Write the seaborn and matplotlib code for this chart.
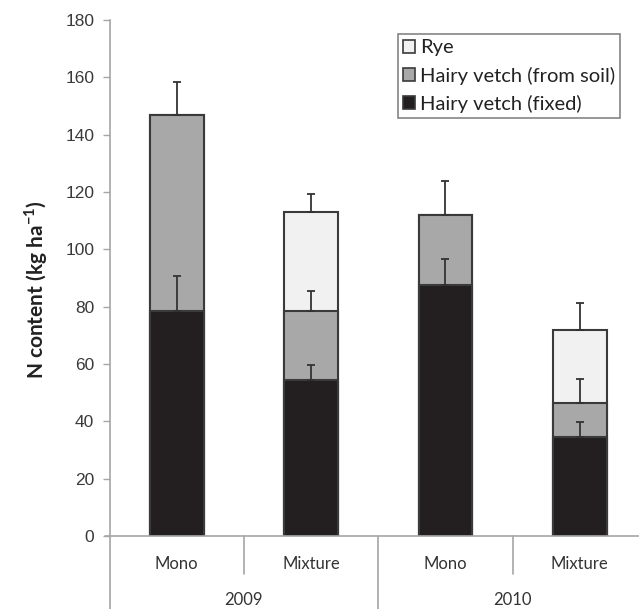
import matplotlib
matplotlib.use("Agg")
import matplotlib.pyplot as plt
import seaborn as sns
import numpy as np
import pandas as pd
from matplotlib.patches import Patch

sns.set_theme(style="white")
plt.rcParams['font.family'] = ['Lato', 'DejaVu Sans']
plt.rcParams['mathtext.fontset'] = 'custom'
plt.rcParams['mathtext.rm'] = 'Lato'
plt.rcParams['mathtext.bf'] = 'Lato:bold'

# ---- data ----
years = ["2009", "2009", "2010", "2010"]
treatments = ["Mono", "Mixture", "Mono", "Mixture"]
fixed = [78.5, 54.5, 87.5, 34.5]
soil = [68.5, 24.0, 24.5, 12.0]
rye = [0.0, 34.5, 0.0, 25.5]
err_fixed = [12.3, 5.3, 9.0, 5.2]
err_soil = [11.2, 7.1, 11.9, 8.4]
err_rye = [0.0, 6.3, 0.0, 9.2]
legend_labels = ["Rye", "Hairy vetch (from soil)", "Hairy vetch (fixed)"]
year_labels = ["2009", "2010"]

fixed_a = np.array(fixed)
soil_top = fixed_a + np.array(soil)
rye_top = soil_top + np.array(rye)

keys = [f"{y} {t}" for y, t in zip(years, treatments)]
df = pd.DataFrame({"key": keys, "fixed": fixed_a, "soil_top": soil_top, "rye_top": rye_top})

c_fixed = "#231f20"
c_soil = "#a8a8a8"
c_rye = "#f1f1f1"
edge = "#3a3a3a"
grey = "#a6a6a6"

fig = plt.figure(figsize=(6.39, 6.09), dpi=100)
ax = fig.add_axes([109.5 / 639, 73 / 609, 1 - 109.5 / 639, 516 / 609])

bar_kw = dict(width=0.4, edgecolor=edge, linewidth=1.5, ax=ax, order=keys)
sns.barplot(data=df, x="key", y="rye_top", color=c_rye, saturation=1, **bar_kw)
sns.barplot(data=df, x="key", y="soil_top", color=c_soil, saturation=1, **bar_kw)
sns.barplot(data=df, x="key", y="fixed", color=c_fixed, saturation=1, **bar_kw)

xs = np.arange(len(keys))
err_kw = dict(fmt="none", ecolor="#333333", elinewidth=1.3, capsize=3, capthick=1.3, zorder=5)
ax.errorbar(xs, fixed_a, yerr=[np.zeros(4), err_fixed], **err_kw)
ax.errorbar(xs, soil_top, yerr=[np.zeros(4), err_soil], **err_kw)
mix = np.array(rye) > 0
ax.errorbar(xs[mix], rye_top[mix], yerr=[np.zeros(mix.sum()), np.array(err_rye)[mix]], **err_kw)

ax.set_ylim(0, 180)
ax.set_xlim(-0.5, 3.44)
ax.set_yticks(np.arange(0, 181, 20))
ax.set_yticklabels([str(v) for v in range(0, 181, 20)], family="Liberation Sans", fontsize=12.5, color="#3a3a3a")
ax.tick_params(axis="y", which="both", left=True, length=5, width=1, color=grey, pad=6)
ax.set_xticks([])
ax.set_xlabel("")
ax.set_ylabel(r"N content (kg ha$^{\mathbf{-1}}$)", fontsize=15, fontweight="bold", color="#222222")
ax.yaxis.set_label_coords(-0.112, 0.477)

for s in ["top", "right"]:
    ax.spines[s].set_visible(False)
ax.spines["left"].set_color(grey)
ax.spines["bottom"].set_color(grey)
ax.spines["left"].set_linewidth(1.2)
ax.spines["bottom"].set_linewidth(1.2)

# extended category axis lines
ax.plot([-0.5, -0.5], [0, -25.5], color=grey, lw=1.2, clip_on=False)
ax.plot([1.5, 1.5], [0, -25.5], color=grey, lw=1.2, clip_on=False)
for xv in [0.5, 2.5]:
    ax.plot([xv, xv], [0, -13.3], color=grey, lw=1.2, clip_on=False)
ax.plot([-0.535, -0.5], [0, 0], color=grey, lw=1.2, clip_on=False)

for x, t in zip(xs, treatments):
    ax.text(x, -9.6, t, ha="center", va="center", fontsize=12, color="#333333", clip_on=False)
for i, yl in enumerate(year_labels):
    ax.text(2 * i + 0.5, -22.3, yl, ha="center", va="center", fontsize=12, color="#333333", clip_on=False)

handles = [Patch(facecolor=c, edgecolor=edge, linewidth=1.2) for c in [c_rye, c_soil, c_fixed]]
leg = ax.legend(handles, legend_labels, loc="upper left", bbox_to_anchor=(0.544, 0.972),
                frameon=True, fancybox=False, fontsize=14.5, handlelength=0.6, handleheight=0.6,
                handletextpad=0.25, borderpad=0.25, labelspacing=0.5, borderaxespad=0)
leg.get_frame().set_edgecolor("#666666")
leg.get_frame().set_linewidth(1.2)
for t in leg.get_texts():
    t.set_color("#222222")

fig.savefig("out.png", dpi=100)
